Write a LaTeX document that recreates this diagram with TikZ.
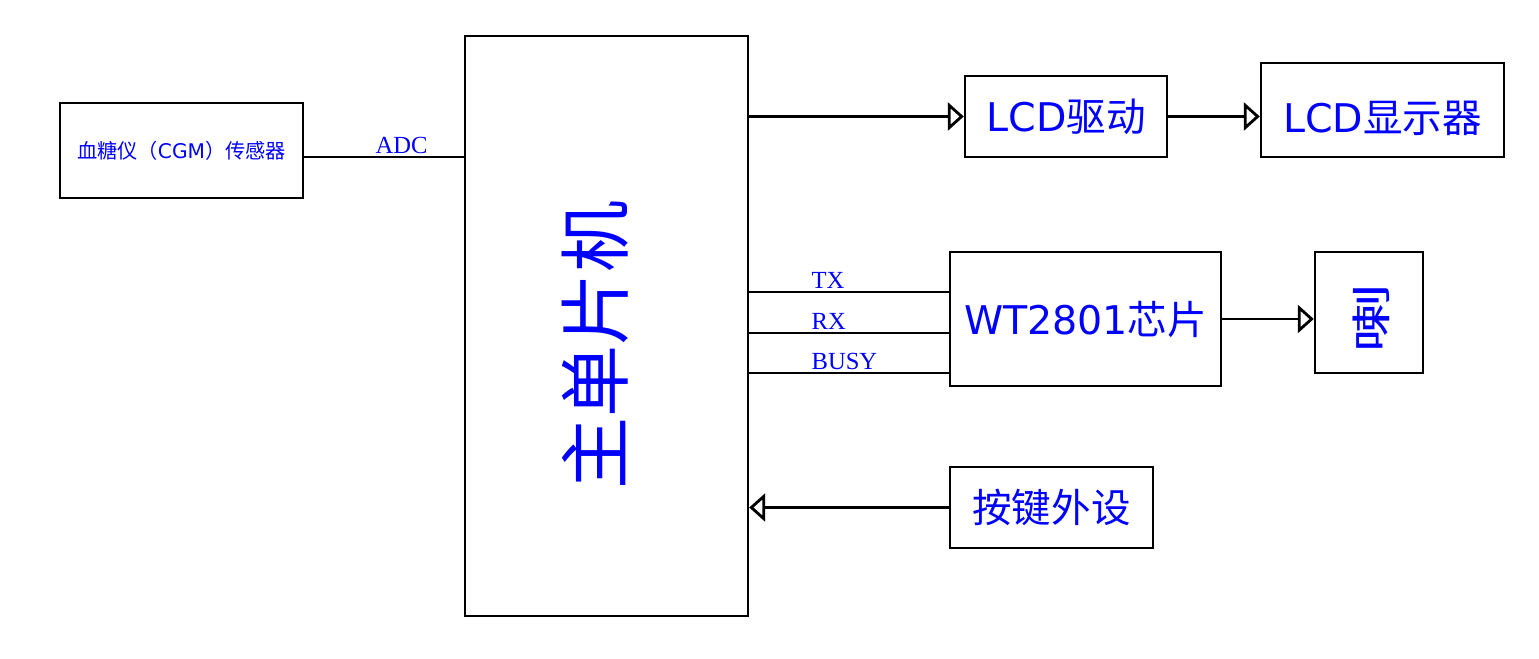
\documentclass[tikz,border=0pt]{standalone}
\usepackage{fontspec}
\setmainfont{DejaVu Sans}
\newfontfamily\cjk{Noto Sans CJK SC}
\newfontfamily\sigfont{Liberation Serif}
\usetikzlibrary{positioning,calc}
\usetikzlibrary{arrows.meta}
\colorlet{txtblue}{blue}

\begin{document}
\begin{tikzpicture}[x=0.02cm, y=-0.02cm, >={Triangle[open, length=0.32cm, width=0.56cm]},
	box/.style={draw=black, line width=1.4pt, inner sep=0pt, text=txtblue},
	big/.style={font=\fontsize{22.5}{22.5}\selectfont},
	sig/.style={text=txtblue, font=\sigfont\fontsize{14}{14}\selectfont, inner sep=1pt},
	wire/.style={draw=black, line width=1.6pt}]
	\useasboundingbox (0,0) rectangle (1539,659);
	% blocks
	\node[box, minimum width=4.86cm, minimum height=1.9cm, font=\fontsize{11.5}{12}\selectfont] (sensor) at (181.5,150.5) {{\cjk 血糖仪（}CGM{\cjk ）传感器}};
	\node[box, minimum width=5.66cm, minimum height=11.6cm] (mcu) at (606.5,326) {};
	\node[text=txtblue, rotate=90, font=\cjk\fontsize{41}{41}\selectfont] (mcutext) at (595,345) {主单片机};
	\node[box, big, minimum width=4.04cm, minimum height=1.62cm] (lcddrv) at (1066,116.5) {LCD{\cjk 驱动}};
	\node[box, minimum width=4.86cm, minimum height=1.88cm] (lcd) at (1382.5,110) {};
	\node[big, text=txtblue] (lcdtext) at ([yshift=-0.16cm]lcd.center) {LCD{\cjk 显示器}};
	\node[box, big, minimum width=5.42cm, minimum height=2.68cm] (wt) at (1085.5,319) {WT2801{\cjk 芯片}};
	\node[box, minimum width=2.16cm, minimum height=2.42cm] (spk) at (1369,312.5) {};
	\node[text=txtblue, rotate=90, yscale=0.57, transform shape, font=\cjk\fontsize{40}{40}\selectfont] (spktext) at (1371,318) {喇};
	\node[box, big, minimum width=4.06cm, minimum height=1.62cm] (key) at (1051.5,507.5) {{\cjk 按键外设}};
	% links
	\draw[wire] ([yshift=-0.13cm]sensor.east) -- ([yshift=-0.13cm]sensor.east -| mcu.west) node[sig, pos=0.61, above] {ADC};
	\draw[wire, ->] (mcu.east |- lcddrv.west) -- (lcddrv.west);
	\draw[wire, ->] (lcddrv.east) -- (lcddrv.east -| lcd.west);
	\foreach \y/\sname in {292/TX, 333/RX, 373/BUSY}
		\draw[wire] (mcu.east |- 0,\y) -- (wt.west |- 0,\y) node[sig, pos=0.297, anchor=south west] {\sname};
	\draw[wire, ->] (wt.east) -- (wt.east -| spk.west);
	\draw[wire, ->] (key.west) -- (key.west -| mcu.east);
\end{tikzpicture}
\end{document}
